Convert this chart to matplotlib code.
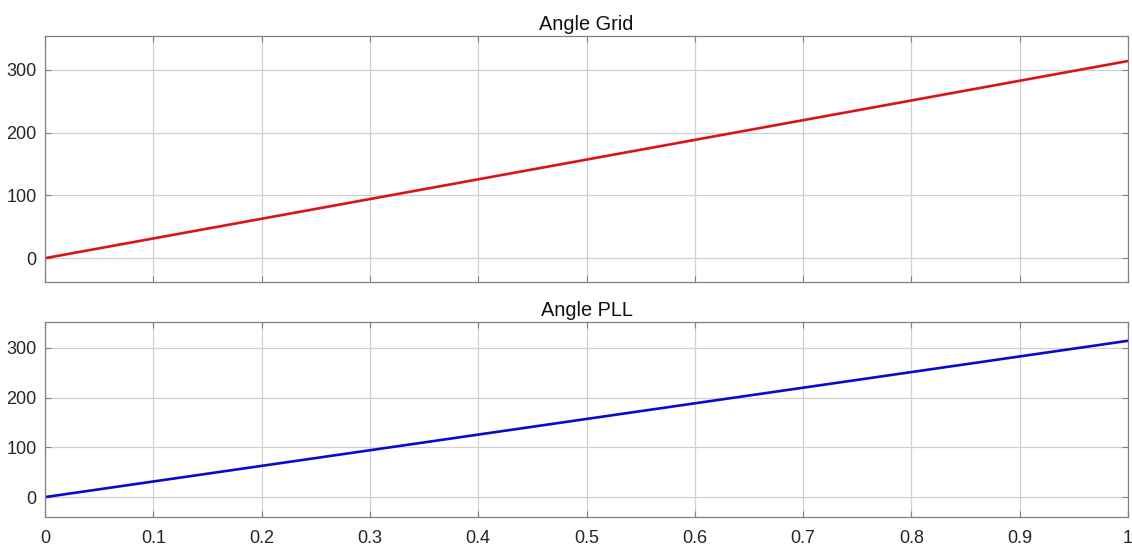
import numpy as np
import matplotlib
matplotlib.use("Agg")
import matplotlib.pyplot as plt

# Data (angle ramps 0 -> ~100*pi over 1 s)
time = [0.0, 0.25, 0.5, 0.75, 1.0]
angle_grid = [0.0, 78.5, 157.1, 235.6, 314.2]
angle_pll = [0.0, 78.5, 157.1, 235.6, 314.2]

titles = ["Angle Grid", "Angle PLL"]
x_ticks = [0, 0.1, 0.2, 0.3, 0.4, 0.5, 0.6, 0.7, 0.8, 0.9, 1]
x_labels = ["0", "0.1", "0.2", "0.3", "0.4", "0.5", "0.6", "0.7", "0.8", "0.9", "1"]
y_ticks = [0, 100, 200, 300]

plt.rcParams["font.family"] = ["Liberation Sans", "DejaVu Sans"]

fig = plt.figure(figsize=(11.32, 5.46), dpi=100)
ax1 = fig.add_axes([0.0398, 0.4835, 0.9567, 0.4505])
ax2 = fig.add_axes([0.0398, 0.0531, 0.9567, 0.3572])

text_col = "#262626"
box_col = "#808080"

def style_axis(ax, title, show_x):
    ax.set_xlim(0, 1)
    ax.set_xticks(x_ticks)
    if show_x:
        ax.set_xticklabels(x_labels)
    else:
        ax.set_xticklabels([])
    ax.set_yticks(y_ticks)
    ax.grid(True, color="#d0d0d0", linewidth=0.9)
    ax.set_axisbelow(True)
    ax.tick_params(direction="in", length=4, width=0.8, colors=box_col,
                   labelcolor=text_col, labelsize=13, top=True, right=True, pad=6)
    ax.tick_params(axis="x", pad=9)
    for sp in ax.spines.values():
        sp.set_color(box_col)
        sp.set_linewidth(0.9)
    ax.set_title(title, fontsize=14.3, color="#111111", pad=4)

ax1.plot(time, angle_grid, color="#dc1414", linewidth=1.9)
ax1.set_ylim(-38, 354)
style_axis(ax1, titles[0], False)

ax2.plot(time, angle_pll, color="#0a0acc", linewidth=1.9)
ax2.set_ylim(-40, 352)
style_axis(ax2, titles[1], True)

fig.savefig("out.png", dpi=100, facecolor="white")
